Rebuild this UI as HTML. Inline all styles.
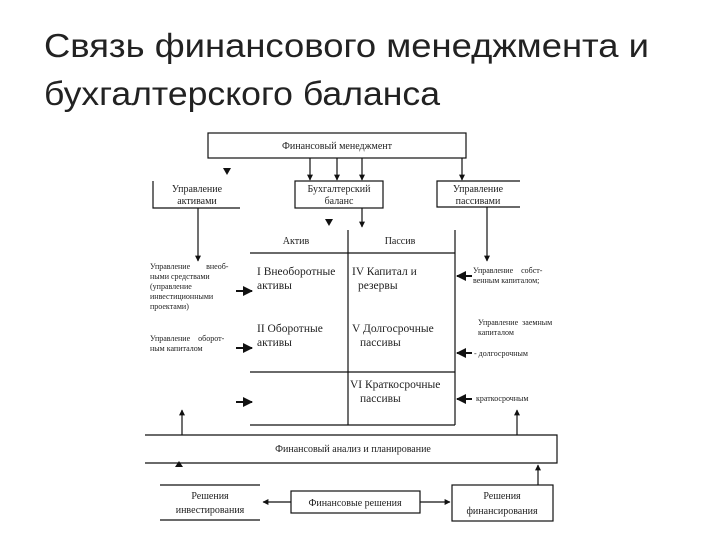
<!DOCTYPE html>
<html><head><meta charset="utf-8"><style>
html,body{margin:0;padding:0;background:#fff;width:720px;height:540px;overflow:hidden}
svg{display:block}
.t{font-family:"Liberation Serif",serif;font-size:10px;fill:#222}
.s{font-family:"Liberation Serif",serif;font-size:8px;fill:#222}
.m{font-family:"Liberation Serif",serif;font-size:11.5px;fill:#222}
</style></head><body>
<svg width="720" height="540" viewBox="0 0 720 540" xmlns="http://www.w3.org/2000/svg">
<defs><marker id="a" viewBox="0 0 10 10" refX="9" refY="5" markerWidth="5" markerHeight="5" orient="auto"><path d="M0,0L10,5L0,10z" fill="#111"/></marker></defs>
<text x="44" y="57" font-family="'Liberation Sans',sans-serif" font-size="33" fill="#222" textLength="605" lengthAdjust="spacingAndGlyphs">Связь финансового менеджмента и</text>
<text x="44" y="105" font-family="'Liberation Sans',sans-serif" font-size="33" fill="#222" textLength="396" lengthAdjust="spacingAndGlyphs">бухгалтерского баланса</text>
<g stroke="#111" stroke-width="1.2" fill="none">
<rect x="208" y="133" width="258" height="25"/>
<line x1="310" y1="158" x2="310" y2="180" marker-end="url(#a)"/>
<line x1="337" y1="158" x2="337" y2="180" marker-end="url(#a)"/>
<line x1="362" y1="158" x2="362" y2="180" marker-end="url(#a)"/>
<line x1="462" y1="158" x2="462" y2="180" marker-end="url(#a)"/>
<polyline points="153,181 153,208 240,208"/>
<rect x="295" y="181" width="88" height="27"/>
<polyline points="520,181 437,181 437,207 520,207"/>
<line x1="362" y1="208" x2="362" y2="227" marker-end="url(#a)"/>
<line x1="198" y1="208" x2="198" y2="261" marker-end="url(#a)"/>
<line x1="487" y1="207" x2="487" y2="261" marker-end="url(#a)"/>
<line x1="250" y1="253" x2="455" y2="253"/>
<line x1="250" y1="372" x2="455" y2="372"/>
<line x1="250" y1="425" x2="455" y2="425"/>
<line x1="348" y1="230" x2="348" y2="425"/>
<line x1="455" y1="230" x2="455" y2="425"/>
<line x1="236" y1="291" x2="252" y2="291" stroke-width="2" marker-end="url(#a)"/>
<line x1="236" y1="348" x2="252" y2="348" stroke-width="2" marker-end="url(#a)"/>
<line x1="236" y1="402" x2="252" y2="402" stroke-width="2" marker-end="url(#a)"/>
<line x1="472" y1="276" x2="457" y2="276" stroke-width="2" marker-end="url(#a)"/>
<line x1="472" y1="353" x2="457" y2="353" stroke-width="2" marker-end="url(#a)"/>
<line x1="472" y1="399" x2="457" y2="399" stroke-width="2" marker-end="url(#a)"/>
<line x1="182" y1="435" x2="182" y2="410" marker-end="url(#a)"/>
<line x1="517" y1="435" x2="517" y2="410" marker-end="url(#a)"/>
<polyline points="145,435 557,435 557,463 145,463"/>
<line x1="538" y1="485" x2="538" y2="465" marker-end="url(#a)"/>
<line x1="160" y1="485" x2="260" y2="485"/>
<line x1="160" y1="520" x2="260" y2="520"/>
<rect x="291" y="491" width="129" height="22"/>
<line x1="291" y1="502" x2="263" y2="502" marker-end="url(#a)"/>
<line x1="420" y1="502" x2="450" y2="502" marker-end="url(#a)"/>
<rect x="452" y="485" width="101" height="36"/>
</g>
<g fill="#111">
<path d="M223,168h8l-4,7z"/><path d="M325,219h8l-4,7z"/><path d="M175,467l4,-6l4,6z"/>
</g>
<text class="t" x="337" y="149" text-anchor="middle">Финансовый менеджмент</text>
<text class="t" x="197" y="192" text-anchor="middle">Управление</text>
<text class="t" x="197" y="204" text-anchor="middle">активами</text>
<text class="t" x="339" y="192" text-anchor="middle">Бухгалтерский</text>
<text class="t" x="339" y="204" text-anchor="middle">баланс</text>
<text class="t" x="478" y="192" text-anchor="middle">Управление</text>
<text class="t" x="478" y="204" text-anchor="middle">пассивами</text>
<text class="t" x="296" y="244" text-anchor="middle">Актив</text>
<text class="t" x="400" y="244" text-anchor="middle">Пассив</text>
<text class="m" x="257" y="275">I Внеоборотные</text>
<text class="m" x="257" y="289">активы</text>
<text class="m" x="257" y="332">II Оборотные</text>
<text class="m" x="257" y="346">активы</text>
<text class="m" x="352" y="275">IV Капитал и</text>
<text class="m" x="358" y="289">резервы</text>
<text class="m" x="352" y="332">V Долгосрочные</text>
<text class="m" x="360" y="346">пассивы</text>
<text class="m" x="350" y="388">VI Краткосрочные</text>
<text class="m" x="360" y="402">пассивы</text>
<text class="s" x="150" y="269">Управление &#160;&#160;&#160;&#160;&#160;&#160;&#160;внеоб-</text>
<text class="s" x="150" y="279">ными средствами</text>
<text class="s" x="150" y="289">(управление</text>
<text class="s" x="150" y="299">инвестиционными</text>
<text class="s" x="150" y="309">проектами)</text>
<text class="s" x="150" y="341">Управление &#160;&#160;&#160;оборот-</text>
<text class="s" x="150" y="351">ным капиталом</text>
<text class="s" x="473" y="273">Управление &#160;&#160;&#160;собст-</text>
<text class="s" x="473" y="283">венным капиталом;</text>
<text class="s" x="478" y="325">Управление &#160;заемным</text>
<text class="s" x="478" y="335">капиталом</text>
<text class="s" x="474" y="356">- долгосрочным</text>
<text class="s" x="476" y="401">краткосрочным</text>
<text class="t" x="353" y="452" text-anchor="middle">Финансовый анализ и планирование</text>
<text class="t" x="210" y="499" text-anchor="middle">Решения</text>
<text class="t" x="210" y="513" text-anchor="middle">инвестирования</text>
<text class="t" x="355" y="506" text-anchor="middle">Финансовые решения</text>
<text class="t" x="502" y="499" text-anchor="middle">Решения</text>
<text class="t" x="502" y="514" text-anchor="middle">финансирования</text>
</svg>
</body></html>
